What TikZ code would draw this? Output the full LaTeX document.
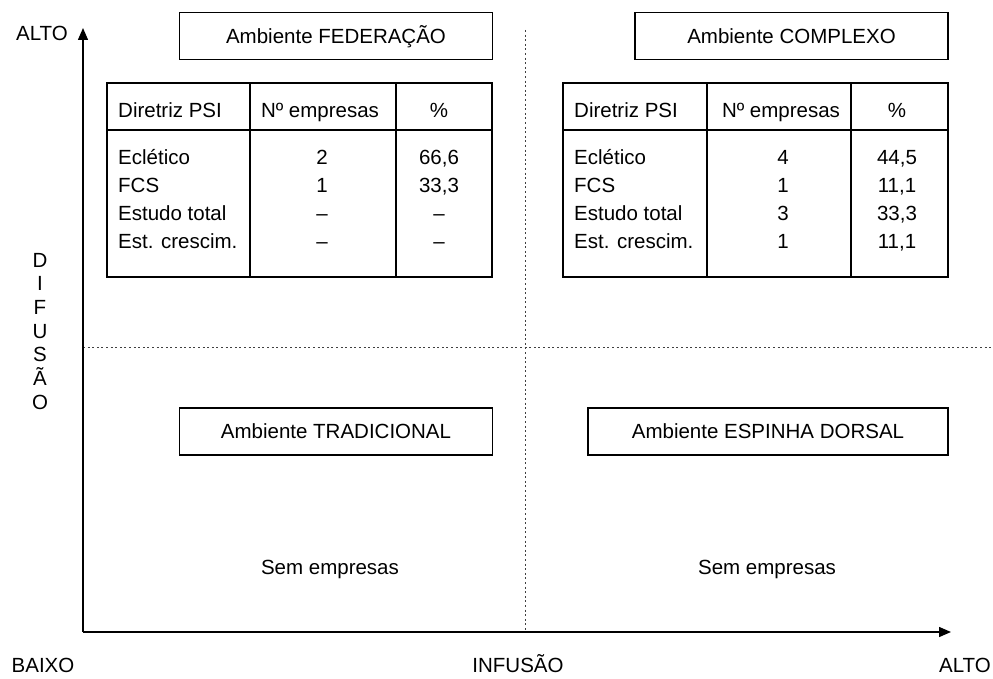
\documentclass[tikz,border=0pt]{standalone}
\usepackage{fontspec}
\setmainfont{Liberation Sans}
\usetikzlibrary{arrows.meta}
\begin{document}
\begin{tikzpicture}[x=1pt,y=-1pt,
  txt/.style={font=\fontsize{20.5}{23}\selectfont, inner sep=0pt, text height=18.7pt, text depth=4pt},
  lt/.style={txt, anchor=west},
  title/.style={draw, line width=1.1pt, minimum width=313pt, minimum height=47pt, font=\fontsize{20.5}{23}\selectfont, text height=18.7pt, text depth=4pt, inner sep=0pt},
  tbl/.style={line width=1.1pt},
  axis/.style={line width=1.4pt, -{Triangle[length=12pt,width=10pt]}},
  dotl/.style={line width=1pt, dash pattern=on 2pt off 2.6pt, black!75}]
\useasboundingbox (0,0) rectangle (993,679);

% dotted separators
\coordinate (vt) at (525,30);
\coordinate (vb) at (525,632);
\coordinate (hl) at (83,347);
\coordinate (hr) at (993,347);
\draw[dotl] (vt) -- (vb);
\draw[dotl] (hl) -- (hr);

% axes
\coordinate (o) at (83,632);
\coordinate (yt) at (83,28);
\coordinate (xt) at (951,632);
\draw[axis] (o) -- (yt);
\draw[axis] (o) -- (xt);

% axis labels
\node[txt] (altoy) at (42,33) {ALTO};
\node[txt] (baixo) at (43,665) {BAIXO};
\node[txt] (infusao) at (518,665) {INFUSÃO};
\node[txt] (altox) at (965,665) {ALTO};
\node[txt] (d1) at (40,260) {D};
\node[txt] (d2) at (40,283.5) {I};
\node[txt] (d3) at (40,307) {F};
\node[txt] (d4) at (40,331) {U};
\node[txt] (d5) at (40,354.5) {S};
\node[txt] (d6) at (40,378) {Ã};
\node[txt] (d7) at (40,402) {O};

% title boxes
\node[title] (fed) at (336,36) {Ambiente FEDERAÇÃO};
\node[title] (com) at (791.5,36) {Ambiente COMPLEXO};
\node[title] (tra) at (336,431.5) {Ambiente TRADICIONAL};
\node[title, minimum width=360pt] (esp) at (768,431.5) {Ambiente ESPINHA DORSAL};

% left table
\draw[tbl] (107,83) rectangle (492,277);
\draw[tbl] (107,130) -- (492,130);
\draw[tbl] (250,83) -- (250,277);
\draw[tbl] (396,83) -- (396,277);
\node[lt] (lh1) at (118,110) {Diretriz PSI};
\node[txt] (lh2) at (320,110) {Nº empresas};
\node[txt] (lh3) at (439,110) {\%};
\node[lt] (la1) at (118,157) {Eclético};
\node[lt] (la2) at (118,185) {FCS};
\node[lt] (la3) at (118,213) {Estudo total};
\node[lt] (la4) at (118,241) {Est. crescim.};
\node[txt] (lb1) at (322,157) {2};
\node[txt] (lb2) at (322,185) {1};
\node[txt] (lb3) at (322,213) {–};
\node[txt] (lb4) at (322,241) {–};
\node[txt] (lc1) at (439,157) {66,6};
\node[txt] (lc2) at (439,185) {33,3};
\node[txt] (lc3) at (439,213) {–};
\node[txt] (lc4) at (439,241) {–};

% right table
\draw[tbl] (563,83) rectangle (948,277);
\draw[tbl] (563,130) -- (948,130);
\draw[tbl] (707,83) -- (707,277);
\draw[tbl] (851,83) -- (851,277);
\node[lt] (rh1) at (574,110) {Diretriz PSI};
\node[txt] (rh2) at (781,110) {Nº empresas};
\node[txt] (rh3) at (897,110) {\%};
\node[lt] (ra1) at (574,157) {Eclético};
\node[lt] (ra2) at (574,185) {FCS};
\node[lt] (ra3) at (574,213) {Estudo total};
\node[lt] (ra4) at (574,241) {Est. crescim.};
\node[txt] (rb1) at (783,157) {4};
\node[txt] (rb2) at (783,185) {1};
\node[txt] (rb3) at (783,213) {3};
\node[txt] (rb4) at (783,241) {1};
\node[txt] (rc1) at (897,157) {44,5};
\node[txt] (rc2) at (897,185) {11,1};
\node[txt] (rc3) at (897,213) {33,3};
\node[txt] (rc4) at (897,241) {11,1};

% empty quadrants
\node[txt] (sem1) at (330,567) {Sem empresas};
\node[txt] (sem2) at (767,567) {Sem empresas};
\end{tikzpicture}
\end{document}
